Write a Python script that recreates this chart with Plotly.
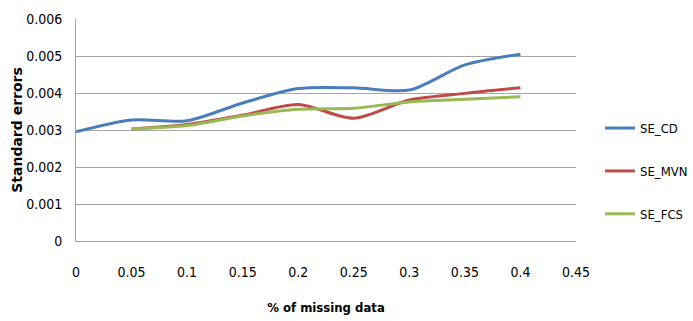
import plotly.graph_objects as go

missing = [0, 0.05, 0.1, 0.15, 0.2, 0.25, 0.3, 0.35, 0.4]
se_cd = [0.00295, 0.00327, 0.00325, 0.00373, 0.00412, 0.00414, 0.00408, 0.00476, 0.00505]
x_imp = [0.05, 0.1, 0.15, 0.2, 0.25, 0.3, 0.35, 0.4]
se_mvn = [0.00303, 0.00315, 0.0034, 0.00369, 0.00332, 0.00381, 0.00399, 0.00414]
se_fcs = [0.00303, 0.00312, 0.00338, 0.00356, 0.00359, 0.00376, 0.00383, 0.0039]

x_ticks = [0, 0.05, 0.1, 0.15, 0.2, 0.25, 0.3, 0.35, 0.4, 0.45]
x_ticktext = ["0", "0.05", "0.1", "0.15", "0.2", "0.25", "0.3", "0.35", "0.4", "0.45"]
y_ticks = [0, 0.001, 0.002, 0.003, 0.004, 0.005, 0.006]
y_ticktext = ["0", "0.001", "0.002", "0.003", "0.004", "0.005", "0.006"]

narrow = "Liberation Sans Narrow, DejaVu Sans Condensed, Arial Narrow, sans-serif"

fig = go.Figure()
series = [
    ("SE_CD", missing, se_cd, "#4a7ebb"),
    ("SE_MVN", x_imp, se_mvn, "#be4b48"),
    ("SE_FCS", x_imp, se_fcs, "#98b954"),
]
for name, xs, ys, col in series:
    fig.add_trace(go.Scatter(
        x=xs, y=ys, name=name, mode="lines",
        line=dict(color=col, width=3, shape="spline", smoothing=0.8),
        legendgroup=name,
    ))

fig.update_layout(
    width=693, height=321,
    margin=dict(l=76, r=117, t=19, b=80, autoexpand=False),
    paper_bgcolor="white", plot_bgcolor="white",
    font=dict(family=narrow, size=14, color="#000000"),
    showlegend=True,
    legend=dict(
        x=1.048, xanchor="left", y=0.315, yanchor="middle",
        font=dict(family=narrow, size=13, color="#000000"),
        tracegroupgap=23, traceorder="grouped",
        bgcolor="rgba(0,0,0,0)",
    ),
    xaxis=dict(
        range=[0, 0.45], tickvals=x_ticks, ticktext=x_ticktext,
        showgrid=False, zeroline=False,
        showline=True, linecolor="#a0a0a0", linewidth=1,
        ticks="", ticklabelstandoff=18,
        tickfont=dict(family=narrow, size=14),
        title=dict(text="<b>% of missing data</b>", font=dict(family=narrow, size=13), standoff=24),
    ),
    yaxis=dict(
        range=[0, 0.006], tickvals=y_ticks, ticktext=y_ticktext,
        showgrid=True, gridcolor="#a6a6a6", gridwidth=1, zeroline=False,
        showline=True, linecolor="#a0a0a0", linewidth=1,
        ticks="", ticklabelstandoff=10,
        tickfont=dict(family=narrow, size=14),
        title=dict(text="<b>Standard errors</b>", font=dict(family="DejaVu Sans", size=14), standoff=0),
    ),
)

fig.write_html("out.html", config={"displayModeBar": False},
               post_script="document.body.style.margin='0';")
